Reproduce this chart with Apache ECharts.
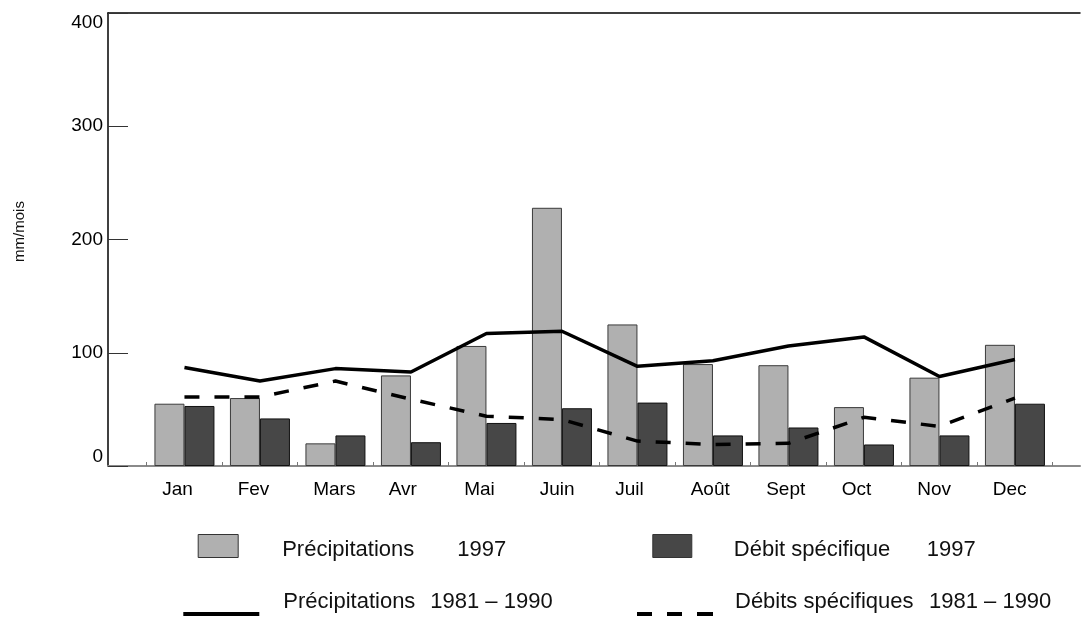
<!DOCTYPE html>
<html>
<head>
<meta charset="utf-8">
<script src="https://cdn.jsdelivr.net/npm/echarts@6/dist/echarts.min.js"></script>
<style>
html,body{margin:0;padding:0;background:#fff;}
#chart{width:1081px;height:623px;}
</style>
</head>
<body>
<div id="chart"></div>
<script>
// Monthly values, mm/mois
const months = ['Jan', 'Fev', 'Mars', 'Avr', 'Mai', 'Juin', 'Juil', 'Août', 'Sept', 'Oct', 'Nov', 'Dec'];
const precip1997 = [55, 60, 20, 80, 106, 228, 125, 90, 89, 52, 78, 107];
const debit1997 = [53, 42, 27, 21, 38, 51, 56, 27, 34, 19, 27, 55];
const precipMean = [87, 75, 86, 83, 117, 119, 88, 93, 106, 114, 79, 94];
const debitMean = [61, 61, 75, 59, 44, 41, 22, 19, 20, 43, 35, 60];
const yMin = 0, yMax = 400, yStep = 100;
const seriesNames = ['Précipitations 1997', 'Débit spécifique 1997', 'Précipitations 1981 – 1990', 'Débits spécifiques 1981 – 1990'];
// legend text split into a name part and a period part
const legendParts = [
  ['Précipitations', '1997'],
  ['Débit spécifique', '1997'],
  ['Précipitations', '1981 – 1990'],
  ['Débits spécifiques', '1981 – 1990']
];

const FONT = "'Liberation Sans', Arial, Helvetica, sans-serif";
const chart = echarts.init(document.getElementById('chart'), null, {renderer: 'canvas'});

// legend key shapes for the two mean curves
const SOLID_KEY = 'path://M0,0h76v4h-76z';
const DASH_KEY = 'path://M0,0h15v4h-15z M30,0h15v4h-15z M60,0h16v4h-16z';

function legendFor(i, left, top, iw, ih, padLeft, nameWidth, vPad, icon) {
  return {
    data: [seriesNames[i]],
    left: left,
    top: top,
    padding: 0,
    itemWidth: iw,
    itemHeight: ih,
    icon: icon,
    selectedMode: false,
    itemStyle: icon === 'rect' ? {borderColor: '#333', borderWidth: 1} : {borderWidth: 0},
    formatter: function () {
      return '{a|' + legendParts[i][0] + '}{b|' + legendParts[i][1] + '}';
    },
    textStyle: {
      fontFamily: FONT,
      fontSize: 22,
      color: '#111',
      padding: [vPad[0], 0, vPad[1], padLeft],
      rich: {
        a: {fontFamily: FONT, fontSize: 22, color: '#111', width: nameWidth},
        b: {fontFamily: FONT, fontSize: 22, color: '#111'}
      }
    }
  };
}

const option = {
  backgroundColor: '#fff',
  animation: false,
  textStyle: {fontFamily: FONT},
  grid: [
    {left: 108, right: 1, top: 13, bottom: 157, containLabel: false, outerBoundsMode: 'none'},
    {left: 146.7, right: 28.3, top: 13, bottom: 157, containLabel: false, outerBoundsMode: 'none'}
  ],
  xAxis: [
    {
      gridIndex: 0, type: 'value', min: 0, max: 1, position: 'bottom',
      axisLine: {show: true, lineStyle: {color: '#8a8a8a', width: 2}},
      axisTick: {show: false}, axisLabel: {show: false}, splitLine: {show: false}
    },
    {
      gridIndex: 0, type: 'value', min: 0, max: 1, position: 'top',
      axisLine: {show: true, lineStyle: {color: '#000', width: 1.5}},
      axisTick: {show: false}, axisLabel: {show: false}, splitLine: {show: false}
    },
    {
      gridIndex: 1, type: 'category', data: months, boundaryGap: true,
      axisLine: {show: false},
      axisTick: {show: true, inside: true, length: 4, interval: 0, lineStyle: {color: '#777', width: 1}},
      axisLabel: {
        color: '#000', fontSize: 19, fontFamily: FONT, margin: 14, align: 'center',
        interval: 0, hideOverlap: false,
        formatter: function (v) { return '{m|' + v + '}'; },
        rich: {m: {fontFamily: FONT, fontSize: 19, color: '#000', width: 44.5, align: 'left'}}
      },
      splitLine: {show: false}
    }
  ],
  yAxis: [
    {
      gridIndex: 0, type: 'value', min: yMin, max: yMax, interval: yStep,
      name: 'mm/mois', nameLocation: 'middle', nameRotate: 90, nameGap: 81,
      nameTextStyle: {fontSize: 15, color: '#111', fontFamily: FONT, padding: [0, 0, 0, 16]},
      axisLine: {show: true, lineStyle: {color: '#000', width: 1.5}},
      axisTick: {show: true, inside: true, length: 20, lineStyle: {color: '#333', width: 1}},
      axisLabel: {color: '#000', fontSize: 19, fontFamily: FONT, margin: 5,
        verticalAlignMaxLabel: 'top', verticalAlignMinLabel: 'bottom'},
      splitLine: {show: false}
    },
    {
      gridIndex: 1, type: 'value', min: yMin, max: yMax, interval: yStep, show: false
    }
  ],
  legend: [
    legendFor(0, 197.7, 534, 40, 23, 39, 175, [8, 0], 'rect'),
    legendFor(1, 652.3, 534, 39, 23, 37, 193, [8, 0], 'rect'),
    legendFor(2, 183.3, 591, 76, 4, 19, 147, [0, 24], SOLID_KEY),
    legendFor(3, 637, 591, 76, 4, 17, 194, [0, 24], DASH_KEY)
  ],
  series: [
    {
      name: seriesNames[0], type: 'bar', xAxisIndex: 2, yAxisIndex: 1,
      data: precip1997, barWidth: 30, barGap: '0%',
      itemStyle: {color: '#b0b0b0', borderColor: '#3a3a3a', borderWidth: 1}
    },
    {
      name: seriesNames[1], type: 'bar', xAxisIndex: 2, yAxisIndex: 1,
      data: debit1997, barWidth: 30, barGap: '0%',
      itemStyle: {color: '#474747', borderColor: '#111', borderWidth: 1}
    },
    {
      name: seriesNames[2], type: 'line', xAxisIndex: 2, yAxisIndex: 1,
      data: precipMean, symbol: 'none', itemStyle: {color: '#000'},
      lineStyle: {color: '#000', width: 3.5}
    },
    {
      name: seriesNames[3], type: 'line', xAxisIndex: 2, yAxisIndex: 1,
      data: debitMean, symbol: 'none', itemStyle: {color: '#000'},
      lineStyle: {color: '#000', width: 3.5, type: [15, 15]}
    }
  ]
};
chart.setOption(option);
</script>
</body>
</html>
